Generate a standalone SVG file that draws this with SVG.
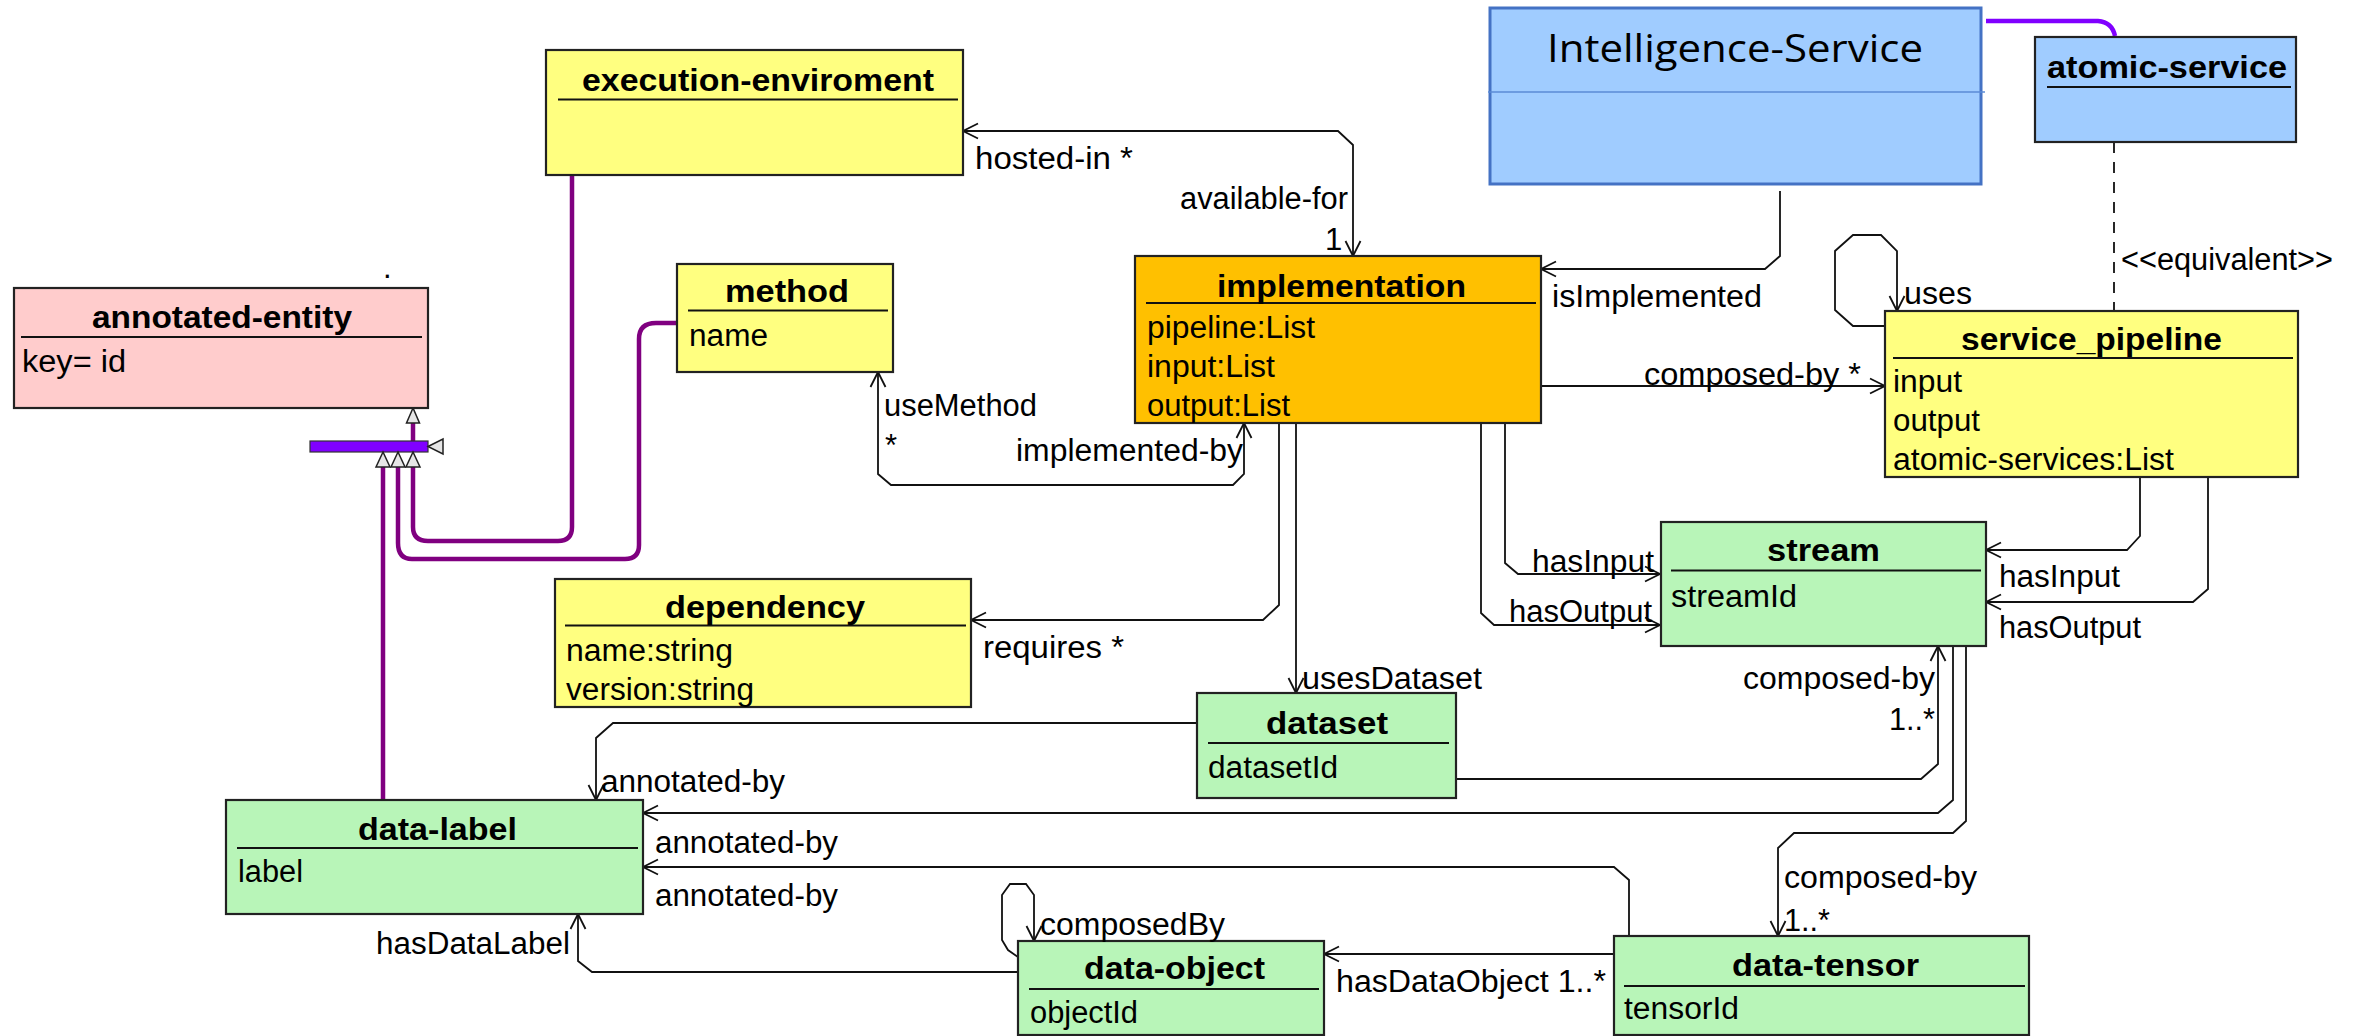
<svg xmlns="http://www.w3.org/2000/svg" width="2359" height="1036" viewBox="0 0 2359 1036">
<defs>
<marker id="arr" viewBox="-17 -9 19 18" refX="0" refY="0" markerWidth="19" markerHeight="18" markerUnits="userSpaceOnUse" orient="auto-start-reverse">
<path d="M-15,-7.5 L0,0 L-15,7.5" fill="none" stroke="#111" stroke-width="1.8"/>
</marker>
<style>
.box{stroke:#222;stroke-width:2.2}
.y{fill:#ffff80}.g{fill:#b8f5b8}.p{fill:#ffcccc}.o{fill:#ffc000}.b{fill:#a0ccff}
.hl{stroke:#111;stroke-width:2.2}
.t{font-family:"Liberation Sans",Arial,sans-serif;font-weight:bold;font-size:32px;fill:#000}
.a{font-family:"Liberation Sans",Arial,sans-serif;font-size:31px;fill:#000}
.c{fill:none;stroke:#111;stroke-width:1.8}
.ca{fill:none;stroke:#111;stroke-width:1.8;marker-end:url(#arr)}
.cb{fill:none;stroke:#111;stroke-width:1.8;marker-start:url(#arr);marker-end:url(#arr)}
.gen{fill:none;stroke:#800080;stroke-width:4.5}
.tri{fill:#e6e6e6;stroke:#222;stroke-width:1.5}
</style>
</defs>
<rect width="2359" height="1036" fill="#fff"/>

<g id="connectors">
<path class="cb" d="M963,131 L1338,131 L1353,145 L1353,256"/>
<path class="cb" d="M878,372 L878,474 L891,485 L1233,485 L1244,474 L1244,423"/>
<path class="ca" d="M1780,191 L1780,256 L1765,269 L1541,269"/>
<path class="ca" d="M1541,386 L1885,386"/>
<path class="ca" d="M1884,326 L1853,326 L1835,310 L1835,251 L1853,235 L1881,235 L1897,251 L1897,311"/>
<path d="M2114,142 L2114,311" fill="none" stroke="#111" stroke-width="1.8" stroke-dasharray="11,9"/>
<path d="M1986,21 L2098,21 Q2112,22 2115,36" fill="none" stroke="#8000ff" stroke-width="4.5"/>
<path class="ca" d="M1505,423 L1505,563 L1518,574 L1660,574"/>
<path class="ca" d="M1481,423 L1481,613 L1494,625 L1660,625"/>
<path class="ca" d="M1279,423 L1279,605 L1263,620 L971,620"/>
<path class="ca" d="M1296,423 L1296,693"/>
<path class="ca" d="M2140,477 L2140,536 L2127,550 L1986,550"/>
<path class="ca" d="M2208,477 L2208,589 L2193,602 L1986,602"/>
<path class="ca" d="M1197,723 L613,723 L596,738 L596,800"/>
<path class="ca" d="M1456,779 L1921,779 L1938,764 L1938,646"/>
<path class="ca" d="M1953,646 L1953,800 L1938,813 L643,813"/>
<path class="ca" d="M1966,646 L1966,821 L1953,833 L1794,833 L1778,848 L1778,936"/>
<path class="ca" d="M1629,936 L1629,880 L1614,867 L643,867"/>
<path class="ca" d="M1614,954 L1324,954"/>
<path class="ca" d="M1018,972 L592,972 L578,961 L578,914"/>
<path class="ca" d="M1018,957 L1008,950 L1002,940 L1002,895 L1010,884 L1026,884 L1034,895 L1034,941"/>
</g>

<g id="generalization">
<path class="gen" d="M383,467 L383,800"/>
<path class="gen" d="M398,467 L398,543 Q398,559 412,559 L625,559 Q639,559 639,545 L639,339 Q639,323 656,323 L677,323"/>
<path class="gen" d="M413,467 L413,527 Q413,541 428,541 L558,541 Q572,541 572,527 L572,175"/>
<path class="gen" d="M413,423 L413,441"/>
<rect x="310" y="441" width="118" height="11" fill="#8000ff" stroke="#333" stroke-width="1.2"/>
<polygon class="tri" points="428,446.5 443,439 443,454"/>
<polygon class="tri" points="413,408 406.5,423 419.5,423"/>
<polygon class="tri" points="383,452 376,467 390,467"/>
<polygon class="tri" points="398,452 391,467 405,467"/>
<polygon class="tri" points="413,452 406,467 420,467"/>
</g>

<g id="execution-enviroment">
<rect class="box y" x="546" y="50" width="417" height="125"/>
<line class="hl" x1="558" y1="99.5" x2="958" y2="99.5"/>
<text class="t" x="582" y="91" textLength="352" lengthAdjust="spacingAndGlyphs">execution-enviroment</text>
</g>

<g id="method">
<rect class="box y" x="677" y="264" width="216" height="108"/>
<line class="hl" x1="688" y1="310.5" x2="888" y2="310.5"/>
<text class="t" x="725" y="302" textLength="124" lengthAdjust="spacingAndGlyphs">method</text>
<text class="a" x="689" y="346" textLength="79" lengthAdjust="spacingAndGlyphs">name</text>
</g>

<g id="annotated-entity">
<rect class="box p" x="14" y="288" width="414" height="120"/>
<line class="hl" x1="21" y1="337" x2="422" y2="337"/>
<text class="t" x="92" y="328" textLength="260" lengthAdjust="spacingAndGlyphs">annotated-entity</text>
<text class="a" x="22" y="372" textLength="104" lengthAdjust="spacingAndGlyphs">key= id</text>
<text class="a" x="383" y="278">.</text>
</g>

<g id="intelligence-service">
<rect x="1490" y="8" width="491" height="176" fill="#a0ccff" stroke="#4472c4" stroke-width="3"/>
<line x1="1488" y1="92" x2="1985" y2="92" stroke="#5b8bd6" stroke-width="1.5"/>
<text x="1547" y="62" font-family="'Open Sans','Noto Sans',sans-serif" font-size="38" fill="#000" textLength="376" lengthAdjust="spacingAndGlyphs">Intelligence-Service</text>
</g>

<g id="atomic-service">
<rect class="box b" x="2035" y="37" width="261" height="105"/>
<line class="hl" x1="2047" y1="87" x2="2291" y2="87"/>
<text class="t" x="2047" y="78" textLength="240" lengthAdjust="spacingAndGlyphs">atomic-service</text>
</g>

<g id="implementation">
<rect class="box o" x="1135" y="256" width="406" height="167"/>
<line class="hl" x1="1146" y1="303" x2="1536" y2="303"/>
<text class="t" x="1217" y="297" textLength="249" lengthAdjust="spacingAndGlyphs">implementation</text>
<text class="a" x="1147" y="338" textLength="168" lengthAdjust="spacingAndGlyphs">pipeline:List</text>
<text class="a" x="1147" y="377" textLength="128" lengthAdjust="spacingAndGlyphs">input:List</text>
<text class="a" x="1147" y="416" textLength="143" lengthAdjust="spacingAndGlyphs">output:List</text>
</g>

<g id="service_pipeline">
<rect class="box y" x="1885" y="311" width="413" height="166"/>
<line class="hl" x1="1893" y1="358" x2="2293" y2="358"/>
<text class="t" x="1961" y="350" textLength="261" lengthAdjust="spacingAndGlyphs">service_pipeline</text>
<text class="a" x="1893" y="392" textLength="69" lengthAdjust="spacingAndGlyphs">input</text>
<text class="a" x="1893" y="431" textLength="87" lengthAdjust="spacingAndGlyphs">output</text>
<text class="a" x="1893" y="470" textLength="281" lengthAdjust="spacingAndGlyphs">atomic-services:List</text>
</g>

<g id="stream">
<rect class="box g" x="1661" y="522" width="325" height="124"/>
<line class="hl" x1="1671" y1="570.5" x2="1981" y2="570.5"/>
<text class="t" x="1767" y="561" textLength="113" lengthAdjust="spacingAndGlyphs">stream</text>
<text class="a" x="1671" y="607" textLength="126" lengthAdjust="spacingAndGlyphs">streamId</text>
</g>

<g id="dependency">
<rect class="box y" x="555" y="579" width="416" height="128"/>
<line class="hl" x1="565" y1="625.5" x2="966" y2="625.5"/>
<text class="t" x="665" y="618" textLength="200" lengthAdjust="spacingAndGlyphs">dependency</text>
<text class="a" x="566" y="661" textLength="167" lengthAdjust="spacingAndGlyphs">name:string</text>
<text class="a" x="566" y="700" textLength="188" lengthAdjust="spacingAndGlyphs">version:string</text>
</g>

<g id="dataset">
<rect class="box g" x="1197" y="693" width="259" height="105"/>
<line class="hl" x1="1208" y1="743" x2="1449" y2="743"/>
<text class="t" x="1266" y="734" textLength="122" lengthAdjust="spacingAndGlyphs">dataset</text>
<text class="a" x="1208" y="778" textLength="130" lengthAdjust="spacingAndGlyphs">datasetId</text>
</g>

<g id="data-label">
<rect class="box g" x="226" y="800" width="417" height="114"/>
<line class="hl" x1="237" y1="848" x2="638" y2="848"/>
<text class="t" x="358" y="840" textLength="159" lengthAdjust="spacingAndGlyphs">data-label</text>
<text class="a" x="238" y="882" textLength="65" lengthAdjust="spacingAndGlyphs">label</text>
</g>

<g id="data-object">
<rect class="box g" x="1018" y="941" width="306" height="94"/>
<line class="hl" x1="1029" y1="989" x2="1319" y2="989"/>
<text class="t" x="1084" y="979" textLength="181" lengthAdjust="spacingAndGlyphs">data-object</text>
<text class="a" x="1030" y="1023" textLength="108" lengthAdjust="spacingAndGlyphs">objectId</text>
</g>

<g id="data-tensor">
<rect class="box g" x="1614" y="936" width="415" height="99"/>
<line class="hl" x1="1624" y1="986" x2="2025" y2="986"/>
<text class="t" x="1732" y="976" textLength="187" lengthAdjust="spacingAndGlyphs">data-tensor</text>
<text class="a" x="1624" y="1019" textLength="115" lengthAdjust="spacingAndGlyphs">tensorId</text>
</g>

<g id="labels">
<text class="a" x="975" y="169" textLength="158" lengthAdjust="spacingAndGlyphs">hosted-in *</text>
<text class="a" x="1180" y="209" textLength="168" lengthAdjust="spacingAndGlyphs">available-for</text>
<text class="a" x="1325" y="250">1</text>
<text class="a" x="884" y="416" textLength="153" lengthAdjust="spacingAndGlyphs">useMethod</text>
<text class="a" x="885" y="456">*</text>
<text class="a" x="1016" y="461" textLength="227" lengthAdjust="spacingAndGlyphs">implemented-by</text>
<text class="a" x="1552" y="307" textLength="210" lengthAdjust="spacingAndGlyphs">isImplemented</text>
<text class="a" x="1904" y="304" textLength="68" lengthAdjust="spacingAndGlyphs">uses</text>
<text class="a" x="2121" y="270" textLength="212" lengthAdjust="spacingAndGlyphs">&lt;&lt;equivalent&gt;&gt;</text>
<text class="a" x="1644" y="385" textLength="217" lengthAdjust="spacingAndGlyphs">composed-by *</text>
<text class="a" x="1532" y="572" textLength="122" lengthAdjust="spacingAndGlyphs">hasInput</text>
<text class="a" x="1509" y="622" textLength="143" lengthAdjust="spacingAndGlyphs">hasOutput</text>
<text class="a" x="1999" y="587" textLength="121" lengthAdjust="spacingAndGlyphs">hasInput</text>
<text class="a" x="1999" y="638" textLength="142" lengthAdjust="spacingAndGlyphs">hasOutput</text>
<text class="a" x="983" y="658" textLength="141" lengthAdjust="spacingAndGlyphs">requires *</text>
<text class="a" x="1302" y="689" textLength="180" lengthAdjust="spacingAndGlyphs">usesDataset</text>
<text class="a" x="1743" y="689" textLength="192" lengthAdjust="spacingAndGlyphs">composed-by</text>
<text class="a" x="1889" y="730" textLength="46" lengthAdjust="spacingAndGlyphs">1..*</text>
<text class="a" x="1784" y="888" textLength="193" lengthAdjust="spacingAndGlyphs">composed-by</text>
<text class="a" x="1784" y="931" textLength="46" lengthAdjust="spacingAndGlyphs">1..*</text>
<text class="a" x="601" y="792" textLength="184" lengthAdjust="spacingAndGlyphs">annotated-by</text>
<text class="a" x="655" y="853" textLength="183" lengthAdjust="spacingAndGlyphs">annotated-by</text>
<text class="a" x="655" y="906" textLength="183" lengthAdjust="spacingAndGlyphs">annotated-by</text>
<text class="a" x="376" y="954" textLength="194" lengthAdjust="spacingAndGlyphs">hasDataLabel</text>
<text class="a" x="1040" y="935" textLength="185" lengthAdjust="spacingAndGlyphs">composedBy</text>
<text class="a" x="1336" y="992" textLength="270" lengthAdjust="spacingAndGlyphs">hasDataObject 1..*</text>
</g>
</svg>
